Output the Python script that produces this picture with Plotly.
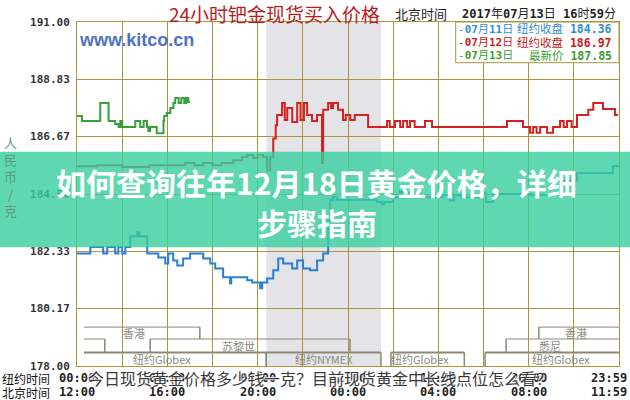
import plotly.graph_objects as go

# ---------------- data ----------------
# hours of the New York day (0 = 00:00 NY), price in RMB/gram
blue_h = [0.00, 0.59, 1.16, 1.34, 1.69, 1.83, 2.00, 2.14, 2.36, 2.67, 2.76, 3.11, 3.60, 3.91, 4.04,
          4.26, 4.44, 4.70, 5.01, 5.59, 5.90, 6.12, 6.47, 6.78, 6.83, 7.54, 7.76, 8.11, 8.20, 8.42,
          8.69, 8.91, 9.13, 9.53, 9.75, 10.01, 10.32, 10.63, 10.90, 11.12, 11.21, 11.34, 11.50, 12.62,
          13.29, 13.50, 13.60, 14.00, 14.30, 14.40, 14.70, 14.80, 16.17, 16.50, 16.70, 17.05, 17.98,
          18.10, 18.42, 20.06, 21.39, 22.14, 23.73, 24.00]
blue_v = [182.25, 182.50, 182.25, 182.50, 182.25, 182.50, 182.25, 182.50, 182.90, 183.05, 182.90, 182.25,
          182.10, 181.87, 182.25, 181.99, 181.80, 182.06, 182.25, 182.06, 181.87, 181.68, 181.35, 181.12,
          181.35, 181.24, 181.16, 180.94, 181.16, 181.31, 181.62, 182.06, 181.87, 181.68, 181.99, 181.68,
          181.62, 181.99, 182.25, 183.50, 184.27, 184.38, 184.27, 184.27, 184.20, 184.10, 184.20, 184.38,
          184.60, 184.38, 184.55, 184.38, 184.45, 184.25, 184.45, 184.38, 184.55, 184.20, 184.50, 184.47,
          185.00, 185.29, 185.56, 185.56]

red_h = [0.00, 0.90, 2.00, 3.20, 4.79, 5.20, 5.60, 6.00, 6.40, 6.92, 7.31, 7.54, 7.80, 8.00, 8.24, 8.42,
         8.55, 8.69, 8.80, 8.86, 9.08, 9.20, 9.31, 9.53, 9.75, 9.90, 10.05, 10.19, 10.41, 10.63, 10.85,
         10.90, 11.12, 11.25, 11.34, 11.56, 11.78, 11.90, 12.10, 12.30, 12.89, 13.73, 13.85, 14.08,
         14.31, 14.44, 14.62, 14.75, 14.95, 15.41, 15.72, 19.04, 19.75, 20.06, 20.20, 20.35, 20.51,
         20.81, 21.08, 21.39, 21.55, 21.70, 21.90, 22.14, 22.64, 22.86, 23.29, 23.82, 23.96]
red_v = [185.55, 185.59, 185.52, 185.59, 185.67, 185.59, 185.67, 185.59, 185.67, 185.78, 185.90, 185.97,
         185.86, 185.97, 185.90, 185.40, 185.90, 186.60, 187.10, 187.49, 187.94, 187.30, 187.75, 187.22,
         187.94, 187.30, 187.94, 187.49, 187.26, 187.49, 185.67, 187.68, 187.94, 187.75, 187.94, 187.68,
         187.30, 187.49, 187.30, 187.49, 187.03, 187.26, 187.03, 187.26, 187.03, 187.26, 187.03, 187.26,
         187.03, 187.26, 187.03, 187.26, 187.03, 186.81, 187.03, 186.81, 187.03, 186.81, 187.03, 187.26,
         187.03, 187.26, 187.03, 187.49, 187.68, 187.94, 187.71, 187.49, 187.49]

green_h = [0.00, 0.22, 1.03, 1.40, 1.69, 1.84, 1.92, 2.00, 2.58, 2.80, 2.95, 3.10, 3.16, 3.24, 3.53,
           3.83, 3.86, 3.98, 4.13, 4.27, 4.35, 4.50, 4.62, 4.75, 4.84, 4.93, 5.00]
green_v = [187.45, 187.26, 187.94, 187.26, 187.15, 187.03, 187.26, 187.03, 187.26, 187.03, 187.26, 187.03,
           186.88, 187.03, 186.80, 187.26, 187.45, 187.56, 187.75, 187.94, 188.13, 187.94, 188.13, 187.94,
           188.13, 187.98, 187.98]

y_ticks = [178.00, 180.17, 182.33, 184.50, 186.67, 188.83, 191.00]
ny_hours = [0, 4, 8, 12, 16, 20, 23.55]
ny_labels = ["00:00", "04:00", "08:00", "12:00", "16:00", "20:00", "23:59"]
bj_labels = ["12:00", "16:00", "20:00", "00:00", "04:00", "08:00", "11:59"]

nymex_span = [8.38, 13.46]
# sessions: (label, start hour, end hour, row level, label hour)
sessions = [
    ("香港", 0.31, 5.44, 179.47, 2.54),
    ("悉尼", 0.31, 1.23, 179.02, None),
    ("苏黎世", 3.24, 12.09, 179.02, 7.14),
    ("纽约Globex", 0.31, 8.38, 178.51, 3.76),
    ("纽约NYMEX", 8.38, 13.46, 178.51, 10.95),
    ("纽约Globex", 13.90, 17.15, 178.51, 15.20),
    ("纽约Globex", 18.07, 24.00, 178.51, 21.45),
    ("悉尼", 19.00, 24.00, 179.02, 20.95),
    ("香港", 20.45, 24.00, 179.47, 22.10),
]
row_below = {179.47: 179.02, 179.02: 178.51, 178.51: 178.00}

legend_rows = [("-<b>07</b>月<b>11</b>日", "纽约收盘 <b>184.36</b>", "#2f8fd0"),
               ("-<b>07</b>月<b>12</b>日", "纽约收盘 <b>186.97</b>", "#c81c1c"),
               ("-<b>07</b>月<b>13</b>日", "最新价 <b>187.85</b>", "#3a9f30")]

GRID = "#a8963e"
CJK = "Noto Sans CJK SC"
MONO = "DejaVu Sans Mono"

fig = go.Figure()
fig.add_trace(go.Scatter(x=blue_h, y=blue_v, mode="lines", line=dict(color="#2a7fd0", width=2, shape="hv")))
fig.add_trace(go.Scatter(x=red_h, y=red_v, mode="lines", line=dict(color="#d42020", width=2, shape="hv")))
fig.add_trace(go.Scatter(x=green_h, y=green_v, mode="lines", line=dict(color="#38a038", width=2, shape="hv")))

shapes = []
# NYMEX shaded region
shapes.append(dict(type="rect", xref="x", yref="y", x0=nymex_span[0], x1=nymex_span[1], y0=178, y1=191,
                   fillcolor="#e4e4e8", line=dict(width=0), layer="below"))
annotations = []
for name, s, e, lvl, lh in sessions:
    low = row_below[lvl]
    w = 2 if lvl == 178.51 else 1
    shapes.append(dict(type="line", xref="x", yref="y", x0=s, x1=e, y0=lvl, y1=lvl,
                       line=dict(color="#8a8a72", width=w), layer="below"))
    if s > 1:
        shapes.append(dict(type="line", xref="x", yref="y", x0=s, x1=s, y0=lvl, y1=low,
                           line=dict(color="#8a8a72", width=1.5), layer="below"))
    if e < 23.9:
        shapes.append(dict(type="line", xref="x", yref="y", x0=e, x1=e, y0=lvl, y1=low,
                           line=dict(color="#8a8a72", width=1.5), layer="below"))
    if lh is not None:
        annotations.append(dict(x=lh, y=(lvl + low) / 2, xref="x", yref="y", text=name, showarrow=False,
                                font=dict(family=CJK, size=11, color="#8a8a80")))

# legend box
shapes.append(dict(type="rect", xref="paper", yref="paper", x0=0.6987, x1=1.0, y0=0.8817, y1=1.0,
                   fillcolor="white", line=dict(color=GRID, width=1), layer="above"))
# banner
shapes.append(dict(type="rect", xref="paper", yref="paper", x0=-0.15, x1=1.03, y0=0.345, y1=0.623,
                   fillcolor="rgba(55,206,159,0.8)", line=dict(width=0), layer="above"))

for i, (left, right, col) in enumerate(legend_rows):
    yy = [0.9788, 0.9398, 0.9012][i]
    annotations.append(dict(x=0.6985, y=yy, xref="paper", yref="paper", xanchor="left", text=left,
                            showarrow=False, font=dict(family=MONO + ", " + CJK, size=11, color=col)))
    annotations.append(dict(x=0.990, y=yy, xref="paper", yref="paper", xanchor="right", text=right,
                            showarrow=False, font=dict(family=MONO + ", " + CJK, size=11.5, color=col)))

# titles
annotations += [
    dict(x=0.3644, y=1.0245, xref="paper", yref="paper", text="24小时钯金现货买入价格", showarrow=False,
         font=dict(family=CJK, size=19, color="#b81c1c")),
    dict(x=0.6356, y=1.0233, xref="paper", yref="paper", text="北京时间", showarrow=False,
         font=dict(family=CJK, size=13, color="#222222")),
    dict(x=0.8524, y=1.0233, xref="paper", yref="paper",
         text="<b>2017</b>年<b>07</b>月<b>13</b>日 <b>16</b>时<b>59</b>分", showarrow=False,
         font=dict(family=MONO + ", " + CJK, size=12, color="#222222")),
    dict(x=0.1089, y=0.9477, xref="paper", yref="paper", text="www.kitco.cn", showarrow=False,
         font=dict(family="Liberation Sans", size=18, color="#4d72c4", weight="bold")),
    dict(x=-0.1218, y=0.552, xref="paper", yref="paper", text="人<br>民<br>币<br>/<br>克", showarrow=False,
         font=dict(family=CJK, size=13, color="#5a9c7c")),
    dict(x=-0.0941, y=-0.0349, xref="paper", yref="paper", text="纽约时间", showarrow=False,
         font=dict(family=CJK, size=12, color="#111111")),
    dict(x=-0.0941, y=-0.0756, xref="paper", yref="paper", text="北京时间", showarrow=False,
         font=dict(family=CJK, size=12, color="#111111")),
]
for h, a, b in zip(ny_hours, ny_labels, bj_labels):
    annotations.append(dict(x=h, y=-0.0349, xref="x", yref="paper", text=a, showarrow=False,
                            font=dict(family=MONO, size=12, color="#222222", weight="bold")))
    annotations.append(dict(x=h, y=-0.0756, xref="x", yref="paper", text=b, showarrow=False,
                            font=dict(family=MONO, size=12, color="#222222", weight="bold")))
# banner text and caption
annotations += [
    dict(x=0.4428, y=0.5358, xref="paper", yref="paper", text="如何查询往年12月18日黄金价格，详细",
         showarrow=False, font=dict(family=CJK, size=30, color="white", weight="bold")),
    dict(x=0.4428, y=0.4195, xref="paper", yref="paper", text="步骤指南",
         showarrow=False, font=dict(family=CJK, size=30, color="white", weight="bold")),
    dict(x=0.4483, y=-0.0349, xref="paper", yref="paper",
         text="今日现货黄金价格多少钱一克？目前现货黄金中长线点位怎么看？", showarrow=False,
         font=dict(family=CJK, size=16, color="#3a3a3a", shadow="1px 1px 1px white, -1px -1px 1px white")),
]
for a in annotations:
    a.setdefault("xanchor", "center")
    a.setdefault("yanchor", "middle")

fig.update_layout(
    width=630, height=400, margin=dict(l=77, r=11, t=22, b=34),
    paper_bgcolor="white", plot_bgcolor="white", showlegend=False,
    shapes=shapes, annotations=annotations,
    xaxis=dict(range=[0, 24], tickvals=list(range(0, 25, 2)), showticklabels=False, showgrid=True,
               gridcolor=GRID, gridwidth=1, zeroline=False, showline=True, linecolor=GRID, mirror=True,
               ticks=""),
    yaxis=dict(range=[178, 191], tickvals=y_ticks, ticktext=["%.2f" % v for v in y_ticks], showgrid=True,
               gridcolor=GRID, gridwidth=1, zeroline=False, showline=True, linecolor=GRID, mirror=True,
               ticks="", ticklabelstandoff=4,
               tickfont=dict(family=MONO, size=11, color="#333333", weight="bold")),
)
fig.write_html("out.html", config={"displayModeBar": False},
               post_script="document.body.style.margin='0px';document.body.style.overflow='hidden';")
